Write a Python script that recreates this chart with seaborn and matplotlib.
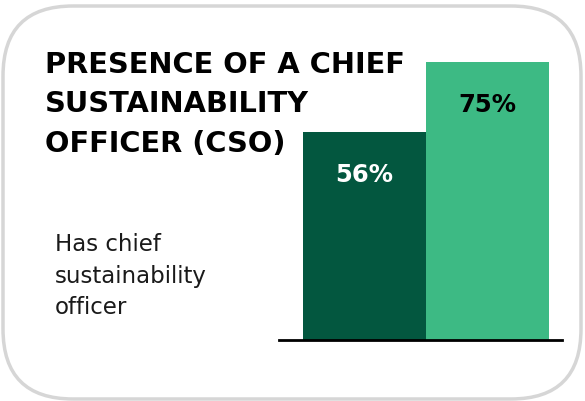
import matplotlib
matplotlib.use("Agg")
import matplotlib.pyplot as plt
from matplotlib.patches import FancyBboxPatch
import seaborn as sns
import pandas as pd

# --- data ---
groups = ["Group 1", "Group 2"]
values = [56, 75]
bar_colors = ["#03573f", "#3dba84"]
label_colors = ["white", "black"]
title = "PRESENCE OF A CHIEF\nSUSTAINABILITY\nOFFICER (CSO)"
row_label = "Has chief\nsustainability\nofficer"

sns.set_theme(style="white")
plt.rcParams["font.family"] = ["DejaVu Sans"]

df = pd.DataFrame({"group": groups, "value": values})

W, H = 585, 402
fig = plt.figure(figsize=(W / 100, H / 100), dpi=100)

# background layer in pixel units for the rounded card
bg = fig.add_axes([0, 0, 1, 1])
bg.set_xlim(0, W)
bg.set_ylim(H, 0)
bg.axis("off")
card = FancyBboxPatch((3, 7), 578, 393, boxstyle="round,pad=0,rounding_size=70",
                      facecolor="white", edgecolor="#d6d6d6", linewidth=2.5)
bg.add_patch(card)

ax = fig.add_axes([279 / W, (H - 341) / H, 283 / W, 278 / H])
sns.barplot(data=df, x="group", y="value", hue="group", palette=bar_colors,
            width=1.0, legend=False, ax=ax, saturation=1, linewidth=0)
ax.set_xlim(-0.695, 1.606)
ax.set_ylim(0, 75)
ax.patch.set_alpha(0)
for s in ["top", "right", "left"]:
    ax.spines[s].set_visible(False)
ax.spines["bottom"].set_color("black")
ax.spines["bottom"].set_linewidth(2)
ax.set_xticks([])
ax.set_yticks([])
ax.set_xlabel("")
ax.set_ylabel("")

for i, v in enumerate(values):
    ax.annotate(f"{v}%", (i, v), xytext=(0, -30), textcoords="offset pixels",
                ha="center", va="top", fontsize=17.5, fontweight="bold",
                color=label_colors[i])

fig.text(45 / W, 1 - 51 / H, title, ha="left", va="top", fontsize=20.8,
         fontweight="bold", color="black", linespacing=1.52)
fig.text(55 / W, 1 - 233 / H, row_label, ha="left", va="top", fontsize=16.5,
         color="#1a1a1a", linespacing=1.48)

fig.savefig("out.png", dpi=100)
